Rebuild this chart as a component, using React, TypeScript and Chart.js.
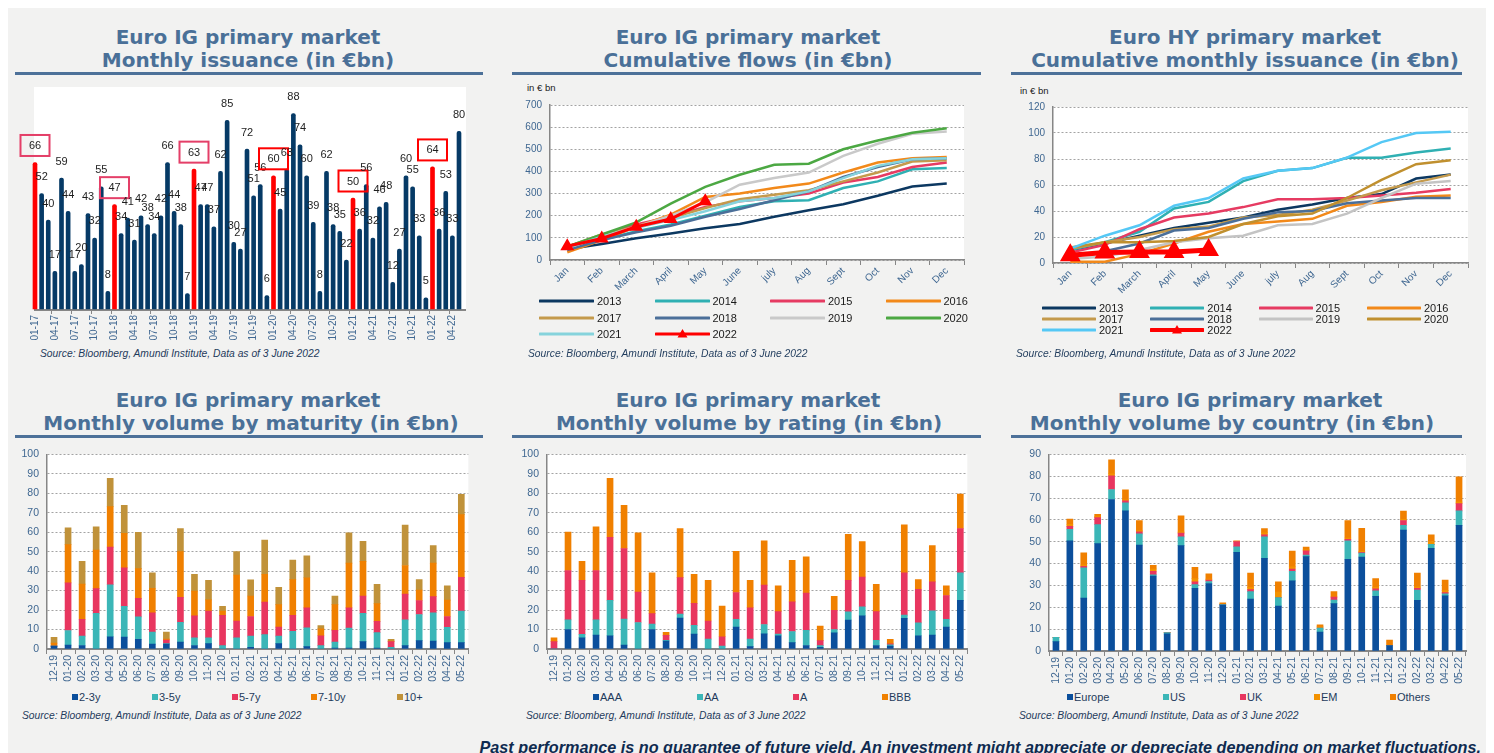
import React, { useEffect, useRef } from "react";
import { Chart, registerables } from "chart.js";

Chart.register(...registerables);

// ---------------- DATA ----------------
const issuanceMonths = [
  "01-17","02-17","03-17","04-17","05-17","06-17","07-17","08-17","09-17","10-17","11-17","12-17",
  "01-18","02-18","03-18","04-18","05-18","06-18","07-18","08-18","09-18","10-18","11-18","12-18",
  "01-19","02-19","03-19","04-19","05-19","06-19","07-19","08-19","09-19","10-19","11-19","12-19",
  "01-20","02-20","03-20","04-20","05-20","06-20","07-20","08-20","09-20","10-20","11-20","12-20",
  "01-21","02-21","03-21","04-21","05-21","06-21","07-21","08-21","09-21","10-21","11-21","12-21",
  "01-22","02-22","03-22","04-22","05-22",
];
const issuanceValues = [
  66, 52, 40, 17, 59, 44, 17, 20, 43, 32, 55, 8,
  47, 34, 41, 31, 42, 38, 34, 42, 66, 44, 38, 7,
  63, 47, 47, 37, 62, 85, 30, 27, 72, 51, 56, 6,
  60, 45, 63, 88, 74, 60, 39, 8, 62, 38, 35, 22,
  50, 36, 56, 32, 46, 48, 12, 27, 60, 55, 33, 5,
  64, 36, 53, 33, 80,
];

const cumMonths = ["Jan","Feb","March","April","May","June","july","Aug","Sept","Oct","Nov","Dec"];
const yearLabels = ["2013","2014","2015","2016","2017","2018","2019","2020","2021","2022"];

const ig2013 = [48, 72, 98, 120, 143, 163, 195, 225, 252, 290, 332, 345];
const ig2014 = [50, 90, 130, 160, 200, 240, 265, 270, 325, 355, 410, 415];
const ig2015 = [60, 110, 160, 195, 240, 265, 280, 300, 350, 375, 420, 440];
const ig2016 = [35, 90, 150, 205, 285, 300, 325, 345, 395, 440, 460, 465];
const ig2017 = [60, 115, 150, 190, 235, 275, 295, 315, 355, 395, 445, 450];
const ig2018 = [45, 90, 125, 155, 195, 230, 270, 310, 375, 420, 455, 460];
const ig2019 = [55, 105, 150, 200, 260, 340, 370, 395, 470, 525, 570, 580];
const ig2020 = [60, 115, 170, 255, 330, 385, 430, 435, 500, 540, 575, 595];
const ig2021 = [55, 105, 145, 180, 220, 265, 280, 310, 370, 425, 455, 460];
const ig2022 = [62, 97, 150, 185, 265];

const hy2013 = [10, 15, 21, 27, 31, 35, 41, 45, 50, 53, 65, 68];
const hy2014 = [10, 16, 24, 42, 47, 63, 71, 73, 81, 81, 85, 88];
const hy2015 = [8, 14, 26, 35, 38, 43, 49, 49, 50, 52, 54, 57];
const hy2016 = [1, 1, 7, 15, 24, 30, 32, 34, 44, 47, 51, 52];
const hy2017 = [11, 16, 20, 26, 28, 35, 37, 41, 48, 56, 62, 68];
const hy2018 = [5, 9, 15, 25, 27, 34, 39, 40, 46, 48, 50, 50];
const hy2019 = [3, 5, 10, 16, 19, 21, 29, 30, 38, 50, 61, 63];
const hy2020 = [12, 16, 16, 17, 20, 30, 36, 38, 50, 64, 76, 79];
const hy2021 = [11, 21, 29, 44, 50, 65, 71, 73, 81, 93, 100, 101];
const hy2022 = [6, 8, 8.5, 8.5, 10];

const volumeMonths = [
  "12-19","01-20","02-20","03-20","04-20","05-20","06-20","07-20","08-20","09-20","10-20","11-20","12-20",
  "01-21","02-21","03-21","04-21","05-21","06-21","07-21","08-21","09-21","10-21","11-21","12-21",
  "01-22","02-22","03-22","04-22","05-22",
];

const maturity23 = [1.5, 2, 1.8, 0, 6.3, 6.1, 5, 2.5, 2.5, 3.5, 1.8, 2.8, 0, 0, 0.8, 0, 2.8, 0, 1.2, 0, 0.5, 0.5, 3.8, 0.5, 0, 1.7, 4.3, 4.1, 3.3, 3.3];
const maturity35 = [0, 7.5, 4.8, 18.3, 26.7, 15.8, 11.5, 6.2, 0.3, 10.2, 4, 3, 1.7, 5.8, 5.8, 7.4, 3.8, 9.1, 9.7, 1.7, 3, 10.2, 14.5, 7.9, 0.8, 13.3, 13.4, 14.5, 7.8, 16.2];
const maturity57 = [0, 24.5, 8.7, 12.7, 19.3, 19.8, 9.5, 9.9, 1.8, 12.9, 11.2, 13.7, 15.6, 8.6, 10.1, 16.7, 4.6, 8.2, 10.2, 5.1, 6.1, 10.4, 8.9, 5.8, 3, 13.2, 7.2, 8.3, 5.6, 17.3];
const maturity710 = [1.5, 19.6, 18, 19.8, 20.8, 17.7, 15.3, 12.6, 0.5, 23.4, 12.7, 5.7, 2.2, 23.6, 10.5, 14.3, 11.6, 18.3, 15.5, 3.6, 13.2, 23, 17.8, 9.1, 0.3, 14.7, 5.3, 17.2, 8.4, 32.2];
const maturity10p = [3, 8.6, 11.7, 11.9, 14.5, 14.4, 18.6, 7.9, 3.6, 11.9, 8.6, 10.1, 2.4, 12, 8.3, 17.5, 8.9, 10.1, 11.3, 1.6, 4.4, 15.6, 10.3, 9.9, 0.9, 20.8, 5.4, 9, 7.4, 10.4];

const ratingAAA = [0, 10, 5.8, 7.1, 6.8, 2, 0, 10, 4.1, 15.9, 7.6, 0, 0, 11.3, 1.2, 7.8, 6.8, 3.3, 1.8, 0.8, 8.3, 14.9, 17.1, 1.8, 1.5, 15.8, 6.8, 7.1, 11.3, 25];
const ratingAA = [0, 5, 1.7, 7.9, 18.2, 13.4, 13.6, 2.8, 0.4, 2, 4.5, 5.1, 1.5, 4, 3.9, 4.8, 0.8, 5.7, 7.8, 0.9, 1.7, 4.2, 4.6, 2.7, 0.7, 1.6, 6.6, 12.5, 4, 14.1];
const ratingA = [3.8, 25.3, 27.8, 25.3, 32.4, 36.2, 15.6, 5.4, 2.5, 18.8, 11.3, 9.3, 4.8, 13.7, 16.1, 20.2, 11.6, 15.2, 19.1, 2.6, 9.9, 16.2, 15.3, 14.7, 0.5, 21.7, 17.3, 14.9, 12.2, 22.8];
const ratingBBB = [2, 19.7, 9.7, 22.4, 30.2, 22.2, 30.5, 20.9, 1.5, 25.2, 14.9, 20.9, 15.8, 21.2, 14.1, 22.8, 13.3, 21.4, 18.6, 7.5, 7.1, 23.6, 18.2, 14, 2.3, 24.7, 5, 18.6, 5, 17.7];

const countryEurope = [4.3, 50.4, 24.2, 49.1, 69.3, 64.1, 48.5, 34.3, 7.8, 48.2, 28.7, 30.9, 21, 45.2, 23.8, 42.4, 20.5, 32.1, 43.2, 8.7, 21.7, 42, 43, 25, 2.5, 55.3, 23.2, 47, 25.3, 57.5];
const countryUS = [1.9, 5.3, 13.8, 8.7, 4.6, 3.7, 5.1, 0.6, 0.6, 4, 1.7, 0.9, 0.2, 2.5, 3.4, 9.8, 3.9, 4.4, 0.7, 1.8, 1.6, 8.4, 1.8, 2.5, 0, 2.2, 4.7, 1.8, 0.9, 6.6];
const countryUK = [0, 1.3, 0.7, 3.2, 6.2, 0.9, 0.9, 1.6, 0, 1.7, 1.2, 0.6, 0, 2.4, 0.9, 0.9, 0, 1, 1.9, 0, 1.4, 0.7, 0.3, 1, 0, 2.2, 0.8, 0, 0.5, 3.3];
const countryEM = [0, 1, 0.6, 0.5, 1, 0.5, 0.5, 1, 0, 0.5, 1.5, 0.5, 0, 0, 1, 1, 2.6, 1, 0.5, 0.6, 0, 0.6, 0.5, 0.6, 0, 0.6, 0.5, 1.3, 0.9, 0.7];
const countryOthers = [0, 2.4, 5.6, 1, 6.4, 4.5, 4.7, 1.7, 0, 7.5, 5.2, 2.4, 0.8, 0.3, 6.5, 1.9, 4.6, 7.2, 1.3, 0.9, 2.5, 8, 10.5, 4, 2.5, 3.7, 6.4, 3, 4.8, 11.6];

const sourceText = "Source: Bloomberg, Amundi Institute, Data as of 3 June 2022";
const footerText = "Past performance is no guarantee of future yield. An investment might appreciate or depreciate depending on market fluctuations.";

// ---------------- STYLE ----------------
const FONT = "'Liberation Sans', Arial, sans-serif";
const TITLE_FONT = "'DejaVu Sans', Verdana, sans-serif";
const TICK = "#3f6791";
const TITLE = "#4a7098";
const BG = "#f2f2f1";
const AXIS = "#868686";
const GRID = "#a3a3a3";
const NAVY = "#063a66";
const RED = "#ff0000";

Chart.defaults.font.family = FONT;

const igColors = ["#0c3861", "#2fb0b3", "#e63b62", "#f2891a", "#c49a4c", "#4b6f99", "#c9c9c9", "#4ca843", "#86d3dc", RED];
const hyColors = ["#0c3861", "#2fb0b3", "#e63b62", "#f2891a", "#c49a4c", "#4b6f99", "#c4c4c4", "#c0902f", "#55c8f5", RED];

const plotBackground = {
  id: "plotBackground",
  beforeDraw(chart: any, _a: any, opts: any) {
    const { ctx, chartArea: a } = chart;
    const l = (opts && opts.extendLeft) || 0;
    const r = (opts && opts.extendRight) || 0;
    ctx.save();
    ctx.fillStyle = "#ffffff";
    ctx.fillRect(a.left - l, a.top, a.right - a.left + l + r, a.bottom - a.top);
    ctx.restore();
  },
};

const issuanceDecor = {
  id: "issuanceDecor",
  beforeDatasetsDraw(chart: any) {
    const { ctx, chartArea: a } = chart;
    ctx.save();
    ctx.strokeStyle = AXIS;
    ctx.lineWidth = 2;
    ctx.beginPath();
    ctx.moveTo(a.left - 1, a.bottom + 1);
    ctx.lineTo(a.right + 7, a.bottom + 1);
    ctx.stroke();
    ctx.restore();
  },
  afterDatasetsDraw(chart: any) {
    const { ctx } = chart;
    const meta = chart.getDatasetMeta(0);
    ctx.save();
    ctx.font = "11px " + FONT;
    ctx.textAlign = "center";
    ctx.textBaseline = "middle";
    meta.data.forEach((el: any, i: number) => {
      const x = el.x;
      const y = el.y - 17;
      ctx.fillStyle = "#1e1e1e";
      ctx.fillText(String(issuanceValues[i]), x, y + 0.5);
      if (issuanceMonths[i].startsWith("01")) {
        const yr = parseInt(issuanceMonths[i].slice(3), 10);
        ctx.strokeStyle = yr >= 20 ? RED : "#e43f68";
        ctx.lineWidth = 2;
        ctx.strokeRect(x - 14.5, y - 10.5, 29, 21);
      }
    });
    ctx.restore();
  },
};

function issuanceConfig(): any {
  return {
    type: "bar",
    data: {
      labels: issuanceMonths,
      datasets: [
        {
          data: issuanceValues,
          backgroundColor: issuanceMonths.map((m) => (m.startsWith("01") ? RED : NAVY)),
          barThickness: 4,
          borderRadius: 2,
          borderSkipped: "bottom",
          clip: false,
        },
      ],
    },
    options: {
      responsive: false,
      animation: false,
      layout: { padding: { left: 20, right: 21, top: 7, bottom: 0 } },
      plugins: {
        legend: { display: false },
        tooltip: { enabled: false },
        plotBackground: { extendLeft: 1, extendRight: 7 },
      },
      scales: {
        x: {
          offset: false,
          grid: {
            display: true,
            drawOnChartArea: false,
            tickLength: 5,
            tickColor: (c: any) => (c.index % 3 === 0 ? AXIS : "rgba(0,0,0,0)"),
          },
          border: { display: false },
          ticks: {
            autoSkip: false,
            maxRotation: 90,
            minRotation: 90,
            padding: 1,
            color: TICK,
            font: { size: 10 },
            callback: (_v: any, i: number) => (i % 3 === 0 ? issuanceMonths[i] : ""),
          },
          afterFit: (s: any) => {
            s.height = 39;
          },
        },
        y: { display: false, min: 0, max: 100 },
      },
    },
    plugins: [plotBackground, issuanceDecor],
  };
}

function lineConfig(
  series: number[][],
  colors: string[],
  yMax: number,
  step: number,
  yWidth: number,
  pad: { right: number; top: number },
  lineW: number,
  redW: number,
  triR: number
): any {
  return {
    type: "line",
    data: {
      labels: cumMonths,
      datasets: series.map((d, i) => {
        const isLast = i === series.length - 1;
        return {
          label: yearLabels[i],
          data: d,
          borderColor: colors[i],
          backgroundColor: colors[i],
          borderWidth: isLast ? redW : lineW,
          pointRadius: isLast ? triR : 0,
          pointStyle: "triangle",
          pointBackgroundColor: colors[i],
          pointBorderColor: colors[i],
          tension: 0,
          order: -i,
        };
      }),
    },
    options: {
      responsive: false,
      animation: false,
      layout: { padding: { left: 0, right: pad.right, top: pad.top, bottom: 0 } },
      plugins: { legend: { display: false }, tooltip: { enabled: false } },
      scales: {
        x: {
          offset: true,
          grid: { offset: true, drawOnChartArea: false, tickLength: 5, color: AXIS },
          border: { color: AXIS, width: 1.5 },
          ticks: { autoSkip: false, maxRotation: 45, minRotation: 45, padding: 0, color: TICK, font: { size: 10 } },
          afterFit: (s: any) => {
            s.height = 35;
          },
        },
        y: {
          min: 0,
          max: yMax,
          ticks: { stepSize: step, padding: 8, color: TICK, font: { size: 10 } },
          grid: { color: GRID, drawTicks: false },
          border: { color: AXIS, width: 1.5, dash: [2, 2] },
          afterFit: (s: any) => {
            s.width = yWidth;
          },
        },
      },
    },
    plugins: [plotBackground],
  };
}

function stackedConfig(
  series: { label: string; data: number[]; color: string }[],
  yMax: number,
  yWidth: number,
  padRight: number,
  padTop: number,
  xH: number
): any {
  return {
    type: "bar",
    data: {
      labels: volumeMonths,
      datasets: series.map((s) => ({
        label: s.label,
        data: s.data,
        backgroundColor: s.color,
        barThickness: 6,
        borderWidth: 0,
      })),
    },
    options: {
      responsive: false,
      animation: false,
      layout: { padding: { left: 0, right: padRight, top: padTop, bottom: 0 } },
      plugins: { legend: { display: false }, tooltip: { enabled: false } },
      scales: {
        x: {
          stacked: true,
          grid: { offset: true, drawOnChartArea: false, tickLength: 5, color: AXIS },
          border: { color: AXIS, width: 2 },
          ticks: { autoSkip: false, maxRotation: 90, minRotation: 90, padding: 1, color: TICK, font: { size: 10.5 } },
          afterFit: (s: any) => {
            s.height = xH;
          },
        },
        y: {
          stacked: true,
          min: 0,
          max: yMax,
          ticks: { stepSize: 10, padding: 8, color: TICK, font: { size: 10.5 } },
          grid: { color: GRID, drawTicks: false },
          border: { color: AXIS, width: 1.5, dash: [2, 2] },
          afterFit: (s: any) => {
            s.width = yWidth;
          },
        },
      },
    },
    plugins: [plotBackground],
  };
}

// ---------------- COMPONENTS ----------------
const P = (x: number) => x - 8;

function ChartCanvas({ x, y, w, h, build }: { x: number; y: number; w: number; h: number; build: () => any }) {
  const ref = useRef<HTMLCanvasElement | null>(null);
  useEffect(() => {
    const chart = new Chart(ref.current as HTMLCanvasElement, build());
    return () => chart.destroy();
  }, []);
  return (
    <canvas
      ref={ref}
      width={w}
      height={h}
      style={{ position: "absolute", left: P(x), top: P(y), width: w, height: h }}
    />
  );
}

function Title({ cx1, cx2, y, line1, line2, ux1, ux2 }: any) {
  const lineStyle: any = {
    position: "absolute",
    width: 700,
    textAlign: "center",
    fontFamily: TITLE_FONT,
    fontWeight: 700,
    fontSize: 20,
    lineHeight: "22px",
    color: TITLE,
    whiteSpace: "nowrap",
  };
  return (
    <>
      <div style={{ ...lineStyle, left: P(cx1 - 350), top: P(y - 11) }}>{line1}</div>
      <div style={{ ...lineStyle, left: P(cx2 - 350), top: P(y + 12) }}>{line2}</div>
      <div
        style={{
          position: "absolute",
          left: P(ux1),
          top: P(y + 35),
          width: ux2 - ux1,
          height: 3,
          background: "#4d7199",
        }}
      />
    </>
  );
}

function Source({ x, y }: { x: number; y: number }) {
  return (
    <div
      style={{
        position: "absolute",
        left: P(x),
        top: P(y - 6),
        fontFamily: FONT,
        fontStyle: "italic",
        fontSize: 10.3,
        lineHeight: "12px",
        color: "#1f3b5c",
        whiteSpace: "nowrap",
      }}
    >
      {sourceText}
    </div>
  );
}

function LineLegend({ colors, x0, y0, dx, dy, lineW, thick, redThick, tri }: any) {
  return (
    <>
      {yearLabels.map((lab, i) => {
        const col = i % 4;
        const row = Math.floor(i / 4);
        const lx = x0 + col * dx;
        const ly = y0 + row * dy;
        const isLast = i === yearLabels.length - 1;
        return (
          <div key={lab} style={{ position: "absolute", left: P(lx), top: P(ly - 7), height: 14, width: 110 }}>
            <svg width={lineW + 2} height={14} style={{ position: "absolute", left: 0, top: 0 }}>
              <line
                x1={1}
                x2={lineW + 1}
                y1={7}
                y2={7}
                stroke={colors[i]}
                strokeWidth={isLast ? redThick : thick}
                strokeLinecap="round"
              />
              {isLast ? (
                <polygon
                  points={`${lineW / 2 + 1},${7 - tri} ${lineW / 2 + 1 - tri},${7 + tri * 0.7} ${lineW / 2 + 1 + tri},${7 + tri * 0.7}`}
                  fill={colors[i]}
                />
              ) : null}
            </svg>
            <div
              style={{
                position: "absolute",
                left: lineW + 5,
                top: 0,
                lineHeight: "14px",
                fontFamily: FONT,
                fontSize: 11,
                color: "#1a1a1a",
              }}
            >
              {lab}
            </div>
          </div>
        );
      })}
    </>
  );
}

function BarLegend({ items, y }: { items: { label: string; color: string; x: number }[]; y: number }) {
  return (
    <>
      {items.map((it) => (
        <div key={it.label} style={{ position: "absolute", left: P(it.x), top: P(y - 7), height: 14, whiteSpace: "nowrap" }}>
          <div style={{ position: "absolute", left: 0, top: 4, width: 6, height: 6, background: it.color }} />
          <div
            style={{
              position: "absolute",
              left: 7,
              top: 0,
              lineHeight: "14px",
              fontFamily: FONT,
              fontSize: 11,
              color: "#1f3b5c",
            }}
          >
            {it.label}
          </div>
        </div>
      ))}
    </>
  );
}

function AxisUnit({ x, y }: { x: number; y: number }) {
  return (
    <div
      style={{
        position: "absolute",
        left: P(x),
        top: P(y - 6),
        fontFamily: FONT,
        fontSize: 9.5,
        lineHeight: "12px",
        color: "#1a1a1a",
        whiteSpace: "nowrap",
      }}
    >
      in € bn
    </div>
  );
}

const C_BLUE = "#0b4f9c";
const C_TEAL = "#3bb6b7";
const C_PINK = "#e8365f";
const C_ORANGE = "#f08000";
const C_GOLD = "#c0923a";

export default function App() {
  const igSeries = [ig2013, ig2014, ig2015, ig2016, ig2017, ig2018, ig2019, ig2020, ig2021, ig2022];
  const hySeries = [hy2013, hy2014, hy2015, hy2016, hy2017, hy2018, hy2019, hy2020, hy2021, hy2022];

  const maturitySeries = [
    { label: "2-3y", data: maturity23, color: C_BLUE },
    { label: "3-5y", data: maturity35, color: C_TEAL },
    { label: "5-7y", data: maturity57, color: C_PINK },
    { label: "7-10y", data: maturity710, color: C_ORANGE },
    { label: "10+", data: maturity10p, color: C_GOLD },
  ];
  const ratingSeries = [
    { label: "AAA", data: ratingAAA, color: C_BLUE },
    { label: "AA", data: ratingAA, color: C_TEAL },
    { label: "A", data: ratingA, color: C_PINK },
    { label: "BBB", data: ratingBBB, color: C_ORANGE },
  ];
  const countrySeries = [
    { label: "Europe", data: countryEurope, color: C_BLUE },
    { label: "US", data: countryUS, color: C_TEAL },
    { label: "UK", data: countryUK, color: C_PINK },
    { label: "EM", data: countryEM, color: "#f39200" },
    { label: "Others", data: countryOthers, color: C_ORANGE },
  ];

  return (
    <div
      style={{
        position: "relative",
        width: 1478,
        height: 760,
        background: BG,
        overflow: "hidden",
        fontFamily: FONT,
      }}
    >
      {/* Titles */}
      <Title cx1={248} cx2={248} y={37} line1="Euro IG primary market" line2="Monthly issuance (in €bn)" ux1={15} ux2={483} />
      <Title cx1={748} cx2={748} y={37} line1="Euro IG primary market" line2="Cumulative flows (in €bn)" ux1={512} ux2={981} />
      <Title cx1={1245} cx2={1245} y={37} line1="Euro HY primary market" line2="Cumulative monthly issuance (in €bn)" ux1={1011} ux2={1462} />
      <Title cx1={248} cx2={251} y={400} line1="Euro IG primary market" line2="Monthly volume by maturity (in €bn)" ux1={15} ux2={483} />
      <Title cx1={748} cx2={749} y={400} line1="Euro IG primary market" line2="Monthly volume by rating (in €bn)" ux1={512} ux2={981} />
      <Title cx1={1250} cx2={1232} y={400} line1="Euro IG primary market" line2="Monthly volume by country (in €bn)" ux1={1011} ux2={1462} />

      {/* Chart 1 */}
      <ChartCanvas x={15} y={80} w={465} h={268} build={issuanceConfig} />
      <Source x={40} y={354} />

      {/* Chart 2 */}
      <AxisUnit x={527} y={88} />
      <ChartCanvas
        x={515}
        y={80}
        w={465}
        h={215}
        build={() => lineConfig(igSeries, igColors, 700, 100, 35, { right: 16, top: 25 }, 2.5, 3, 5)}
      />
      <LineLegend colors={igColors} x0={539} y0={301} dx={115.5} dy={16.5} lineW={53} thick={3} redThick={3} tri={5} />
      <Source x={528} y={354} />

      {/* Chart 3 */}
      <AxisUnit x={1020} y={91} />
      <ChartCanvas
        x={1010}
        y={80}
        w={470}
        h={218}
        build={() => lineConfig(hySeries, hyColors, 120, 20, 43, { right: 10, top: 27 }, 2.5, 5, 7)}
      />
      <LineLegend colors={hyColors} x0={1042} y0={308} dx={108.3} dy={11} lineW={52} thick={3} redThick={4} tri={5} />
      <Source x={1016} y={354} />

      {/* Chart 4 */}
      <ChartCanvas
        x={15}
        y={440}
        w={460}
        h={249}
        build={() => stackedConfig(maturitySeries, 100, 32, 5, 7, 40)}
      />
      <BarLegend
        y={697}
        items={[
          { label: "2-3y", color: C_BLUE, x: 72 },
          { label: "3-5y", color: C_TEAL, x: 152 },
          { label: "5-7y", color: C_PINK, x: 232 },
          { label: "7-10y", color: C_ORANGE, x: 311 },
          { label: "10+", color: C_GOLD, x: 397 },
        ]}
      />
      <Source x={22} y={716} />

      {/* Chart 5 */}
      <ChartCanvas
        x={512}
        y={440}
        w={462}
        h={249}
        build={() => stackedConfig(ratingSeries, 100, 35, 5, 8, 40)}
      />
      <BarLegend
        y={697}
        items={[
          { label: "AAA", color: C_BLUE, x: 593 },
          { label: "AA", color: C_TEAL, x: 697 },
          { label: "A", color: C_PINK, x: 793 },
          { label: "BBB", color: C_ORANGE, x: 882 },
        ]}
      />
      <Source x={526} y={716} />

      {/* Chart 6 */}
      <ChartCanvas
        x={1010}
        y={440}
        w={464}
        h={249}
        build={() => stackedConfig(countrySeries, 90, 39, 8, 8, 38)}
      />
      <BarLegend
        y={697}
        items={[
          { label: "Europe", color: C_BLUE, x: 1067 },
          { label: "US", color: C_TEAL, x: 1163 },
          { label: "UK", color: C_PINK, x: 1240 },
          { label: "EM", color: "#f39200", x: 1314 },
          { label: "Others", color: C_ORANGE, x: 1390 },
        ]}
      />
      <Source x={1019} y={716} />

      {/* Footer */}
      <div
        style={{
          position: "absolute",
          right: 5,
          top: P(739),
          fontFamily: FONT,
          fontStyle: "italic",
          fontWeight: 700,
          fontSize: 16.2,
          lineHeight: "16px",
          color: "#0f2b50",
          whiteSpace: "nowrap",
        }}
      >
        {footerText}
      </div>
    </div>
  );
}
